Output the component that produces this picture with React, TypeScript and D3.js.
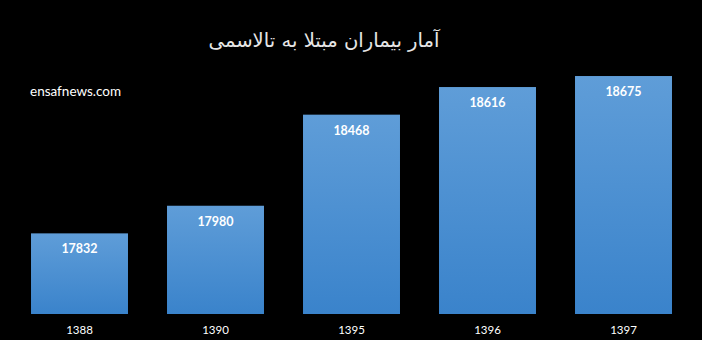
import React from "react";
import * as d3 from "d3";

const categories = ["1388", "1390", "1395", "1396", "1397"];
const values = [17832, 17980, 18468, 18616, 18675];
const title = "آمار بیماران مبتلا به تالاسمی";
const source = "ensafnews.com";

const W = 702;
const H = 340;

export default function App() {
  const x = d3.scaleBand<string>().domain(categories).range([11.5, 691.5]).paddingInner(0.287).paddingOuter(0.1435);
  const y = d3.scaleLinear().domain([17400, 18800]).range([314, 52.7]);
  return (
    <svg width={W} height={H} style={{ position: "absolute", left: 0, top: 0, background: "#000" }}>
      <defs>
        <linearGradient id="barGrad" x1="0" y1="0" x2="0" y2="1">
          <stop offset="0%" stopColor="#5f9dd8" />
          <stop offset="100%" stopColor="#3a83cb" />
        </linearGradient>
      </defs>
      <rect x={0} y={0} width={W} height={H} fill="#000" />
      <text x={324} y={47} textAnchor="middle" fill="#e6e6e6" fontFamily="DejaVu Sans" fontSize={19.6} direction="rtl">
        {title}
      </text>
      <text x={30} y={96} fill="#ffffff" fontFamily="Lato, 'Open Sans', sans-serif" fontSize={13.5}>
        {source}
      </text>
      {categories.map((c, i) => {
        const bx = x(c) as number;
        const top = y(values[i]);
        return (
          <g key={c}>
            <rect x={bx} y={top} width={x.bandwidth()} height={y(17400) - top} fill="url(#barGrad)" />
            <text x={bx + x.bandwidth() / 2} y={top + 20} textAnchor="middle" fill="#ffffff" fontWeight="bold" fontFamily="Lato, 'Open Sans', sans-serif" fontSize={12.5}>
              {values[i]}
            </text>
            <text x={bx + x.bandwidth() / 2} y={333.5} textAnchor="middle" fill="#ffffff" fontFamily="Lato, 'Open Sans', sans-serif" fontSize={11.5}>
              {c}
            </text>
          </g>
        );
      })}
    </svg>
  );
}
